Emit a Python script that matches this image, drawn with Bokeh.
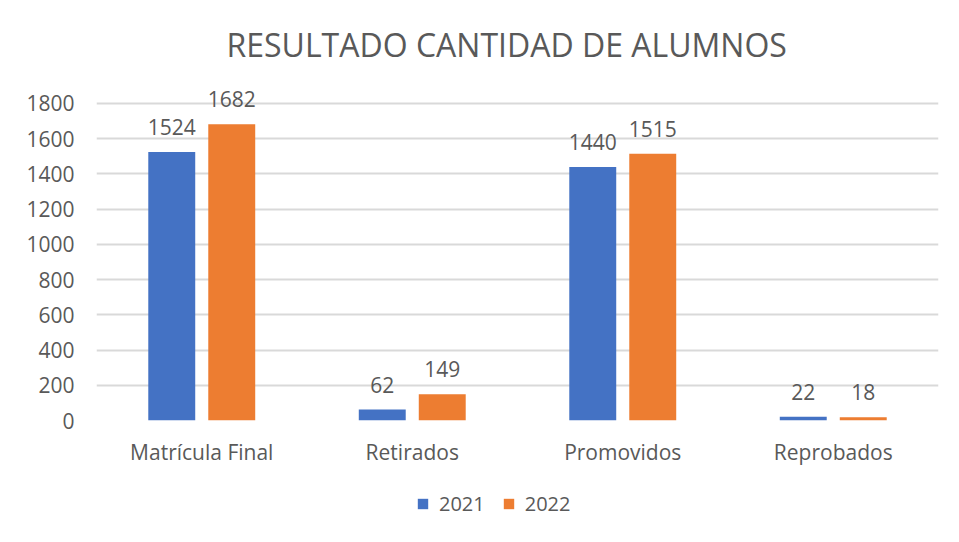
from bokeh.plotting import figure
from bokeh.models import FactorRange, ColumnDataSource, LabelSet, Legend, LegendItem, Range1d, Title
from bokeh.layouts import column
from bokeh.transform import dodge
from bokeh.embed import file_html
from bokeh.resources import INLINE
from bokeh.core.properties import value

categories = ["Matrícula Final", "Retirados", "Promovidos", "Reprobados"]
series_names = ["2021", "2022"]
values_2021 = [1524, 62, 1440, 22]
values_2022 = [1682, 149, 1515, 18]
y_ticks = [0, 200, 400, 600, 800, 1000, 1200, 1400, 1600, 1800]
title_text = "RESULTADO CANTIDAD DE ALUMNOS"

BLUE = "#4472C4"
ORANGE = "#ED7D31"
GRID = "#D9D9D9"
TXT = "#595959"
FONT = "Open Sans"

src = ColumnDataSource(dict(cat=categories, v1=values_2021, v2=values_2022,
                            t1=[str(v) for v in values_2021], t2=[str(v) for v in values_2022]))

# frame extends a bit above 1800 so the top data label is not clipped
p = figure(x_range=FactorRange(*categories), y_range=Range1d(0, 1947.6),
           frame_width=842, frame_height=343, output_backend="svg", toolbar_location=None,
           min_border_left=96, min_border_right=5, min_border_top=77, min_border_bottom=60)

p.x_range.range_padding = 0
p.outline_line_color = None
off = 0.1425
w = 0.223
r1 = p.vbar(x=dodge("cat", -off, range=p.x_range), top="v1", width=w, source=src,
            fill_color=BLUE, line_color=None)
r2 = p.vbar(x=dodge("cat", off, range=p.x_range), top="v2", width=w, source=src,
            fill_color=ORANGE, line_color=None)

for col, t, o in (("v1", "t1", -off), ("v2", "t2", off)):
    p.add_layout(LabelSet(x=dodge("cat", o, range=p.x_range), y=col, text=t, source=src,
                          text_align="center", text_baseline="bottom", y_offset=17,
                          text_font=value(FONT), text_font_size="21px", text_color=TXT))

p.xgrid.grid_line_color = None
p.ygrid.grid_line_color = GRID
p.ygrid.grid_line_width = 2
p.yaxis.ticker = y_ticks
for ax in (p.xaxis[0], p.yaxis[0]):
    ax.axis_line_color = None
    ax.major_tick_line_color = None
    ax.minor_tick_line_color = None
    ax.major_label_text_font = FONT
    ax.major_label_text_font_size = "21px"
    ax.major_label_text_color = TXT
p.yaxis.major_label_standoff = 16
p.xaxis.major_label_standoff = 11

p.title = Title(text=title_text, align="left", text_font=FONT, text_font_size="32px",
                text_color=TXT, text_font_style="normal", offset=130)
p.title.standoff = 24

# legend row below the chart (its renderers are hidden; only the legend shows)
p2 = figure(width=943, height=48, x_range=FactorRange(*categories), y_range=Range1d(-20000, -10000),
            x_axis_type=None, y_axis_type=None, output_backend="svg", toolbar_location=None,
            min_border_left=0, min_border_right=0, min_border_top=0, min_border_bottom=0)
p2.outline_line_color = None
p2.grid.grid_line_color = None
l1 = p2.vbar(x="cat", top="v1", width=w, source=src, fill_color=BLUE, line_color=None)
l2 = p2.vbar(x="cat", top="v2", width=w, source=src, fill_color=ORANGE, line_color=None)
l1.visible = False
l2.visible = False
legend = Legend(items=[LegendItem(label=series_names[0], renderers=[l1]),
                       LegendItem(label=series_names[1], renderers=[l2])],
                orientation="horizontal", location=(320, 11), click_policy="none",
                label_text_font=FONT, label_text_font_size="20px", label_text_color=TXT,
                glyph_width=13, glyph_height=13, border_line_color=None,
                background_fill_alpha=0, spacing=17, label_standoff=10, padding=0, margin=0)
p2.add_layout(legend, "center")

layout = column(p, p2, spacing=0)
open("out.html", "w").write(file_html(layout, INLINE))
